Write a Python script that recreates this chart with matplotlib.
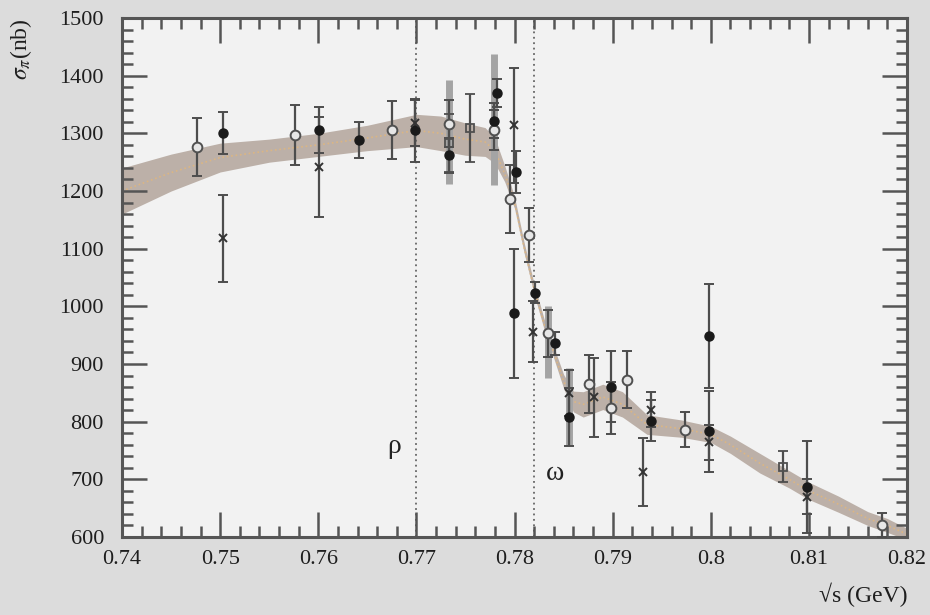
import matplotlib
matplotlib.use("Agg")
import matplotlib.pyplot as plt
from matplotlib.ticker import MultipleLocator
import numpy as np

plt.rcParams['font.family'] = ['Liberation Serif', 'DejaVu Serif']
plt.rcParams['mathtext.fontset'] = 'stix'

# fit band (centre and half width)
band_x = [0.740, 0.745, 0.750, 0.755, 0.760, 0.765, 0.770, 0.7725, 0.775, 0.777, 0.778,
          0.779, 0.780, 0.781, 0.782, 0.783, 0.784, 0.785, 0.786, 0.787, 0.789, 0.791,
          0.7935, 0.797, 0.800, 0.802, 0.805, 0.808, 0.810, 0.813, 0.816, 0.818, 0.820]
band_c = [1200, 1232, 1258, 1270, 1280, 1292, 1305, 1300, 1290, 1285, 1270,
          1230, 1180, 1100, 1030, 970, 920, 870, 835, 830, 843, 830,
          795, 788, 778, 760, 728, 700, 680, 657, 632, 620, 605]
band_w = [40, 32, 25, 20, 20, 22, 28, 30, 28, 25, 22,
          14, 10, 9, 9, 9, 10, 12, 18, 22, 22, 22,
          17, 15, 14, 15, 17, 15, 15, 14, 12, 12, 10]

# wide (grey) error bars without marker
wide_x = [0.7733, 0.7779, 0.7834, 0.7856]
wide_y = [1303, 1324, 938, 825]
wide_e = [90, 114, 63, 68]

# open circles
oc_x = [0.7476, 0.7576, 0.7675, 0.7733, 0.7779, 0.7795, 0.7815, 0.7834, 0.7876,
        0.7898, 0.7915, 0.7974, 0.8174]
oc_y = [1276, 1297, 1306, 1317, 1306, 1186, 1124, 953, 865, 823, 873, 786, 621]
oc_e = [50, 52, 50, 40, 35, 59, 47, 40, 50, 45, 50, 30, 21]

# filled circles
fc_x = [0.7503, 0.7601, 0.7641, 0.7699, 0.7733, 0.7779, 0.7782, 0.7801, 0.7799,
        0.7821, 0.7841, 0.7856, 0.7898, 0.7939, 0.7998, 0.7998, 0.8098]
fc_y = [1301, 1306, 1288, 1305, 1262, 1322, 1370, 1233, 988, 1024, 936, 808, 861,
        802, 949, 783, 687]
fc_e = [36, 40, 31, 54, 30, 30, 25, 36, 112, 18, 20, 50, 62, 35, 90, 71, 80]

# crosses
cr_x = [0.7503, 0.7601, 0.7699, 0.7799, 0.7819, 0.7856, 0.7881, 0.7931, 0.7939,
        0.7998, 0.8098]
cr_y = [1118, 1242, 1318, 1314, 956, 849, 842, 712, 821, 764, 670]
cr_e = [75, 87, 40, 100, 53, 40, 68, 59, 30, 30, 30]

# open squares
sq_x = [0.7733, 0.7755, 0.8074]
sq_y = [1283, 1310, 722]
sq_e = [50, 59, 27]

rho_x, omega_x = 0.770, 0.782

fig = plt.figure(figsize=(9.3, 6.15), dpi=100, facecolor='#dcdcdc')
ax = fig.add_axes([0.1312, 0.1268, 0.8441, 0.8439])
ax.set_facecolor('#f2f2f2')

bc = np.array(band_c)
bw = np.array(band_w)
ax.fill_between(band_x, bc - bw, bc + bw, color='#bcb0a8', lw=0, zorder=1)
ax.plot(band_x, band_c, ':', color='#e9b873', lw=1.2, alpha=0.7, zorder=1.5)

ax.axvline(rho_x, color='#666666', ls=(0, (1, 2)), lw=1.3, zorder=1)
ax.axvline(omega_x, color='#666666', ls=(0, (1, 2)), lw=1.3, zorder=1)

ax.errorbar(wide_x, wide_y, yerr=wide_e, fmt='none', ecolor='#a4a4a4',
            elinewidth=5, capsize=0, zorder=2)

ek = dict(ecolor='#4d4d4d', elinewidth=1.6, capsize=3.5, capthick=1.4, zorder=3)
ax.errorbar(oc_x, oc_y, yerr=oc_e, fmt='o', ms=7, mfc='#e6e6e6', mec='#505050',
            mew=1.4, **ek)
ax.errorbar(fc_x, fc_y, yerr=fc_e, fmt='o', ms=6.5, mfc='#1a1a1a', mec='#1a1a1a', **ek)
ax.errorbar(cr_x, cr_y, yerr=cr_e, fmt='x', ms=5.5, mec='#333333', mew=1.4, **ek)
ax.errorbar(sq_x, sq_y, yerr=sq_e, fmt='s', ms=5.5, mfc='none', mec='#505050',
            mew=1.3, **ek)

ax.text(0.7677, 757, 'ρ', fontsize=20, ha='center', va='center', color='#222222')
ax.text(0.7841, 710, 'ω', fontsize=20, ha='center', va='center', color='#222222')

ax.set_xlim(0.74, 0.82)
ax.set_ylim(600, 1500)
ax.xaxis.set_major_locator(MultipleLocator(0.01))
ax.xaxis.set_minor_locator(MultipleLocator(0.002))
ax.yaxis.set_major_locator(MultipleLocator(100))
ax.yaxis.set_minor_locator(MultipleLocator(20))
ax.set_xticks(np.arange(0.74, 0.8201, 0.01))
ax.set_xticklabels(['0.74', '0.75', '0.76', '0.77', '0.78', '0.79', '0.8', '0.81', '0.82'])

ax.tick_params(which='both', direction='in', top=True, right=True, color='#555555',
               width=1.8, labelcolor='#1e1e1e', labelsize=16)
ax.tick_params(which='major', length=18)
ax.tick_params(which='minor', length=8)
ax.tick_params(axis='x', pad=9)
ax.tick_params(axis='y', pad=13)
for s in ax.spines.values():
    s.set_color('#555555')
    s.set_linewidth(2.2)

ax.set_ylabel(r'$\sigma_\pi$(nb)', fontsize=17, loc='top', color='#1e1e1e')
ax.yaxis.set_label_coords(-0.112, 1.0)
ax.set_xlabel('√s (GeV)', fontsize=17, loc='right', color='#1e1e1e')
ax.xaxis.set_label_coords(1.0, -0.088)

fig.savefig('out.png', dpi=100, facecolor=fig.get_facecolor())
